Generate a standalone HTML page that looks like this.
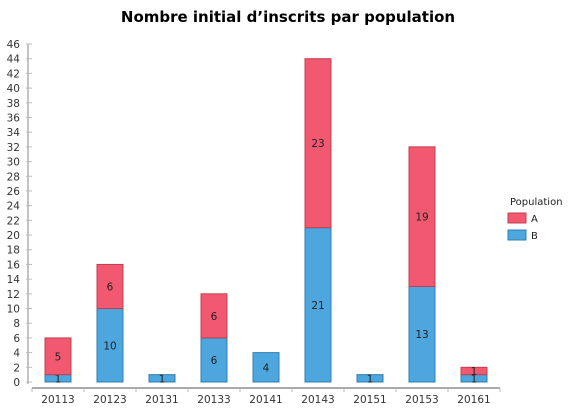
<!DOCTYPE html>
<html><head><meta charset="utf-8"><style>
body{margin:0;background:#fff;}
svg text{font-family:"DejaVu Sans","Liberation Sans",sans-serif;}
</style></head><body>
<svg width="576" height="410" id="c">
<text x="288" y="22" text-anchor="middle" font-size="15" font-weight="bold" fill="#000">Nombre initial d’inscrits par population</text>
<g id="g"></g>
<g>
<text x="510" y="205" font-size="10" fill="#222">Population</text>
<rect x="508" y="213" width="18" height="10" fill="#f2586f" stroke="#c0404f"/>
<text x="531" y="222" font-size="10" fill="#222">A</text>
<rect x="508" y="230" width="18" height="10" fill="#4da6dd" stroke="#2f7fb0"/>
<text x="531" y="239" font-size="10" fill="#222">B</text>
</g>
</svg>
<script>
const categories=["20113","20123","20131","20133","20141","20143","20151","20153","20161"];
const seriesB=[1,10,1,6,4,21,1,13,1];
const seriesA=[5,6,0,6,0,23,0,19,1];
const yTicks=[0,2,4,6,8,10,12,14,16,18,20,22,24,26,28,30,32,34,36,38,40,42,44,46];
const NS="http://www.w3.org/2000/svg",g=document.getElementById('g');
const y0=382,y1=44,yMax=46,xL=32,xR=500;
const y=v=>y0-(y0-y1)*v/yMax;
const bw=(xR-xL)/categories.length;
const xc=i=>xL+bw*(i+0.5);
function mk(t,a){const e=document.createElementNS(NS,t);for(const k in a)e.setAttribute(k,a[k]);g.appendChild(e);return e;}
let ax=mk('line',{x1:28,y1:y1,x2:28,y2:y0+2,stroke:'#888'});


yTicks.forEach(v=>{
 mk('line',{x1:26,x2:32,y1:y(v),y2:y(v),stroke:'#bbb'});
 const t=mk('text',{x:20,y:y(v)+4,'text-anchor':'end','font-size':10.5,fill:'#333'});t.textContent=v;
 
 
});
let xa=mk('line',{x1:xL,y1:388,x2:xR,y2:388,stroke:'#555'});


for(let i=0;i<=categories.length;i++)mk('line',{x1:xL+bw*i,x2:xL+bw*i,y1:388,y2:392,stroke:'#bbb'});
categories.forEach((c,i)=>{
 const t=mk('text',{x:xc(i),y:403,'text-anchor':'middle','font-size':10.5,fill:'#333'});t.textContent=c;
 
 
 const x=xc(i)-13;
 const b=seriesB[i],a=seriesA[i];
 if(b>0){
  const r=mk('rect',{x:x,y:y(b),width:26,height:y(0)-y(b),fill:'#4da6dd',stroke:'#2f7fb0'});
  
  
  const l=mk('text',{x:xc(i),y:(y(0)+y(b))/2+4,'text-anchor':'middle','font-size':10.5,fill:'#222'});l.textContent=b;
  
  
 }
 if(a>0){
  const r=mk('rect',{x:x,y:y(a+b),width:26,height:y(b)-y(a+b),fill:'#f2586f',stroke:'#c0404f'});
  
  
  const l=mk('text',{x:xc(i),y:(y(b)+y(a+b))/2+4,'text-anchor':'middle','font-size':10.5,fill:'#222'});l.textContent=a;
  
  
 }
});
</script>
</body></html>
